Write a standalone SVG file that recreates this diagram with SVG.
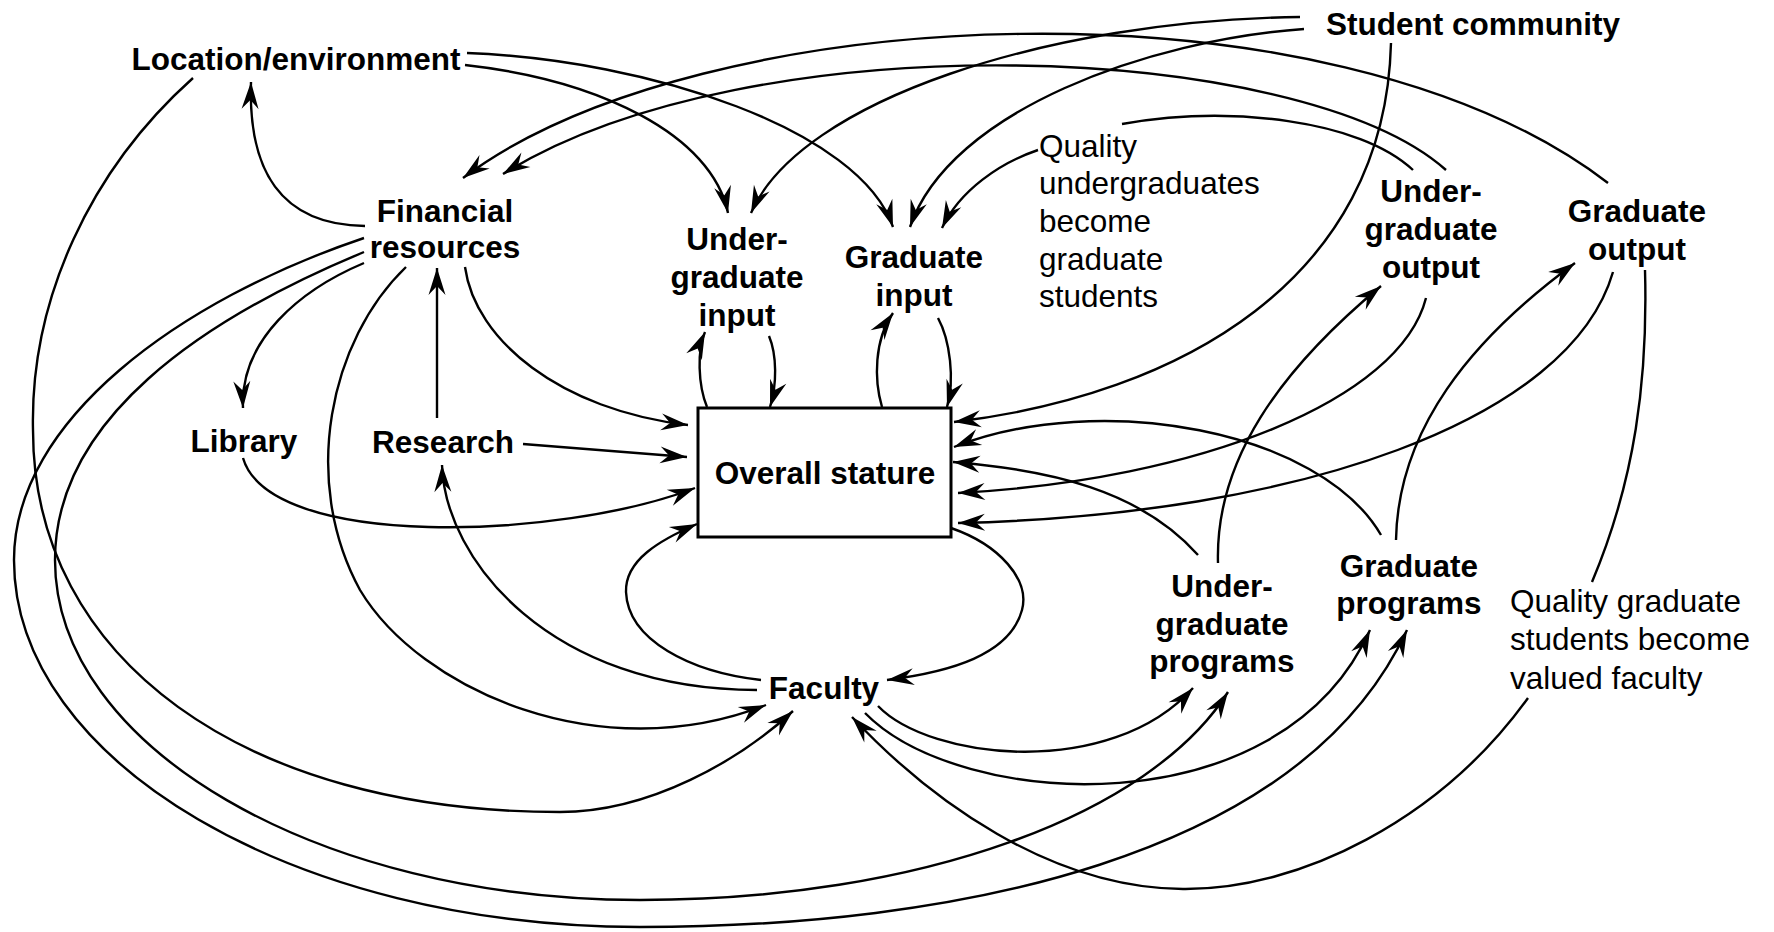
<svg xmlns="http://www.w3.org/2000/svg" width="1774" height="932" viewBox="0 0 1774 932">
<defs>
<style>
.t{font-family:"Liberation Sans",Arial,Helvetica,sans-serif;font-size:31.5px;fill:#000}
.b{font-weight:bold;text-anchor:middle}
.c{fill:none;stroke:#000;stroke-width:2.4}
.a{marker-end:url(#ah)}
</style>
<marker id="ah" markerUnits="userSpaceOnUse" viewBox="-28 -10 30 20" refX="0" refY="0" markerWidth="30" markerHeight="20" orient="auto">
<path d="M0,0 L-27,-8.5 L-18,0 L-27,8.5 Z" fill="#000"/>
</marker>
</defs>
<rect width="1774" height="932" fill="#fff"/>
<g id="connectors">
<path class="c a" d="M465,65 C600,80 712,135 728,213"/>
<path class="c a" d="M467,53 C650,60 860,130 893,227"/>
<path class="c a" d="M193,78 C90,170 30,300 33,430 C33,659 244,812 560,812 C650,812 740,760 793,711"/>
<path class="c a" d="M1300,17 C1050,20 800,100 751,213"/>
<path class="c a" d="M1304,29 C1150,40 950,110 910,227"/>
<path class="c a" d="M1391,43 C1385,280 1180,395 954,422"/>
<path class="c a" d="M1608,183 C1330,-30 700,0 463,178"/>
<path class="c a" d="M1446,170 C1300,40 750,20 503,174"/>
<path class="c" d="M1413,170 C1360,120 1230,105 1122,124"/>
<path class="c a" d="M1038,150 C1000,163 960,190 942,228"/>
<path class="c a" d="M365,226 C280,225 248,170 251,82"/>
<path class="c a" d="M364,263 C300,290 240,340 243,408"/>
<path class="c a" d="M406,267 C330,340 300,480 360,590 C420,690 600,770 766,705"/>
<path class="c a" d="M465,267 C475,340 560,410 688,425"/>
<path class="c a" d="M364,238 C180,300 14,420 14,560 C14,762 296,927 640,927 C950,927 1300,860 1407,630"/>
<path class="c a" d="M364,252 C200,320 55,420 55,560 C55,747 318,900 640,900 C920,900 1150,815 1228,692"/>
<path class="c a" d="M437,418 L437,268"/>
<path class="c a" d="M523,444 L687,457"/>
<path class="c a" d="M243,458 C270,550 560,540 695,488"/>
<path class="c a" d="M757,690 C550,690 445,560 442,465"/>
<path class="c a" d="M761,680 C690,672 628,640 626,592 C625,560 660,540 697,524"/>
<path class="c a" d="M951,528 C1000,545 1030,580 1022,610 C1010,655 950,672 887,680"/>
<path class="c a" d="M707,407 C698,385 697,350 705,332"/>
<path class="c a" d="M769,336 C777,355 777,385 770,407"/>
<path class="c a" d="M882,407 C874,380 874,340 893,313"/>
<path class="c a" d="M938,318 C950,340 955,380 947,407"/>
<path class="c a" d="M1381,535 C1320,430 1100,390 954,447"/>
<path class="c a" d="M1198,555 C1140,490 1050,470 953,462"/>
<path class="c a" d="M1426,298 C1400,400 1200,480 958,493"/>
<path class="c a" d="M1613,272 C1570,420 1300,515 958,523"/>
<path class="c a" d="M1218,563 C1215,460 1280,370 1381,286"/>
<path class="c a" d="M1396,540 C1398,430 1470,340 1575,263"/>
<path class="c" d="M1645,270 C1648,380 1635,480 1592,582"/>
<path class="c a" d="M1528,698 C1440,820 1300,890 1183,889 C1050,888 930,800 852,717"/>
<path class="c a" d="M878,706 C930,760 1110,780 1193,688"/>
<path class="c a" d="M865,713 C960,810 1280,830 1370,630"/>
</g>
<g id="location"><text class="t b" x="296" y="70">Location/environment</text></g>
<g id="student-community"><text class="t b" x="1473" y="35">Student community</text></g>
<g id="financial"><text class="t b" x="445" y="222">Financial</text><text class="t b" x="445" y="258">resources</text></g>
<g id="ug-input"><text class="t b" x="737" y="250">Under-</text><text class="t b" x="737" y="288">graduate</text><text class="t b" x="737" y="326">input</text></g>
<g id="grad-input"><text class="t b" x="914" y="268">Graduate</text><text class="t b" x="914" y="306">input</text></g>
<g id="quality-ug"><text class="t" x="1039" y="157">Quality</text><text class="t" x="1039" y="194">undergraduates</text><text class="t" x="1039" y="232">become</text><text class="t" x="1039" y="270">graduate</text><text class="t" x="1039" y="307">students</text></g>
<g id="ug-output"><text class="t b" x="1431" y="202">Under-</text><text class="t b" x="1431" y="240">graduate</text><text class="t b" x="1431" y="278">output</text></g>
<g id="grad-output"><text class="t b" x="1637" y="222">Graduate</text><text class="t b" x="1637" y="260">output</text></g>
<g id="library"><text class="t b" x="244" y="452">Library</text></g>
<g id="research"><text class="t b" x="443" y="453">Research</text></g>
<g id="overall"><rect x="698" y="408" width="253" height="129" fill="#fff" stroke="#000" stroke-width="3"/><text class="t b" x="825" y="484">Overall stature</text></g>
<g id="faculty"><text class="t b" x="824" y="699">Faculty</text></g>
<g id="ug-programs"><text class="t b" x="1222" y="597">Under-</text><text class="t b" x="1222" y="635">graduate</text><text class="t b" x="1222" y="672">programs</text></g>
<g id="grad-programs"><text class="t b" x="1409" y="577">Graduate</text><text class="t b" x="1409" y="614">programs</text></g>
<g id="quality-grad"><text class="t" x="1510" y="612">Quality graduate</text><text class="t" x="1510" y="650">students become</text><text class="t" x="1510" y="689">valued faculty</text></g>
</svg>
